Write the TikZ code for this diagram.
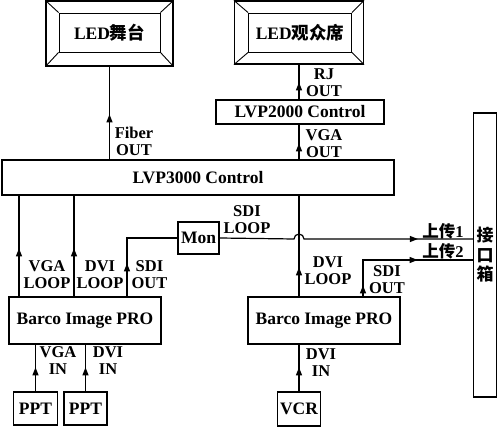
\documentclass[tikz,border=0pt]{standalone}
\usepackage{fontspec}
\setmainfont{Liberation Serif}
\newfontfamily\cjk{Noto Sans CJK SC}
\usetikzlibrary{arrows.meta,decorations.markings}
\newcommand\dgbox{\fontsize{17.5}{19}\selectfont\bfseries}
\newcommand\dglbl{\fontsize{16.5}{17}\selectfont\bfseries}
\tikzset{
  box/.style={draw, line width=1.2pt, inner sep=0pt, font=\dgbox},
  lbl/.style={align=center, font=\dglbl, inner sep=0pt},
  wire/.style={line width=1.2pt},
  thin/.style={line width=0.9pt},
  tip/.style={postaction={decorate}, decoration={markings,
      mark=at position #1 with {\arrow{Triangle[width=6pt,length=8pt]}}}},
  tiptwo/.style 2 args={postaction={decorate}, decoration={markings,
      mark=at position #1 with {\arrow{Triangle[width=6pt,length=8pt]}},
      mark=at position #2 with {\arrow{Triangle[width=6pt,length=8pt]}}}},
}
\begin{document}
\begin{tikzpicture}[x=1pt,y=-1pt]
\useasboundingbox (0,0) rectangle (498,427);
% column / row helpers
\coordinate (c19) at (19,0);
\coordinate (c74) at (74,0);
\coordinate (c127) at (127,0);
\coordinate (c299) at (299,0);
\coordinate (c363) at (363,0);
\coordinate (r239) at (0,239);
\coordinate (r260) at (0,260);
\coordinate (hopL) at (294,239);

% LED screens
\node[box, minimum width=127pt, minimum height=65pt] (stage) at (109.5,33.5) {};
\node[box, thin, minimum width=101pt, minimum height=39pt] (stagein) at (109.5,32.5) {LED{\cjk\bfseries 舞台}};
\foreach \c in {north west,north east,south west,south east}
  \draw[thin] (stage.\c) -- (stagein.\c);

\node[box, minimum width=129pt, minimum height=63pt] (aud) at (299,32.5) {};
\node[box, thin, minimum width=103pt, minimum height=39pt] (audin) at (300,32.5) {LED{\cjk\bfseries 观众席}};
\foreach \c in {north west,north east,south west,south east}
  \draw[thin] (aud.\c) -- (audin.\c);

% boxes
\node[box, minimum width=168pt, minimum height=24pt] (lvp2) at (300,112) {LVP2000 Control};
\node[box, minimum width=392pt, minimum height=35pt] (lvp3) at (198,177.5) {LVP3000 Control};
\node[box, minimum width=41pt, minimum height=32pt] (mon) at (198.5,238) {Mon};
\node[box, minimum width=152pt, minimum height=47pt] (bl) at (85,320.5) {Barco Image PRO};
\node[box, minimum width=152pt, minimum height=47pt] (br) at (324,320.5) {Barco Image PRO};
\node[box, minimum width=44pt, minimum height=33pt] (ppt1) at (35.5,408.5) {PPT};
\node[box, minimum width=43pt, minimum height=33pt] (ppt2) at (85.5,408.5) {PPT};
\node[box, minimum width=43pt, minimum height=34pt] (vcr) at (299,409) {VCR};
\node[box, minimum width=23pt, minimum height=284pt, align=center,
      font=\cjk\bfseries\fontsize{17}{19.5}\selectfont] (ifbox) at (485,255) {接\\口\\箱};

% connectors
\draw[wire, tip=45pt] (lvp3.north -| stage.south) -- (stage.south);
\draw[wire, tip=17pt] (lvp2.north -| c299) -- (aud.south -| c299);
\draw[wire, tip=16pt] (lvp3.north -| c299) -- (lvp2.south -| c299);
\draw[wire, tip=48pt] (bl.north -| c19) -- (lvp3.south -| c19);
\draw[wire, tip=48pt] (bl.north -| c74) -- (lvp3.south -| c74);
\draw[wire, tip=33pt] (bl.north -| c127) |- (mon.west);
\draw[wire, tip=204pt] (mon.east) -- (hopL) arc[start angle=180, end angle=0, radius=5pt] -- (ifbox.west |- r239);
\draw[wire, tip=29pt] (br.north -| c299) -- (lvp3.south -| c299);
\draw[wire, tiptwo={11pt}{91pt}] (br.north -| c363) |- (ifbox.west |- r260);
\draw[wire, tip=24pt] (ppt1.north) -- (bl.south -| ppt1.north);
\draw[wire, tip=24pt] (ppt2.north) -- (bl.south -| ppt2.north);
\draw[wire, tip=24pt] (vcr.north) -- (br.south -| vcr.north);

% labels
\node[lbl] (lfiber) at (134,141) {Fiber\\OUT};
\node[lbl] (lrj) at (324,83) {RJ\\OUT};
\node[lbl] (lvgaout) at (324,144) {VGA\\OUT};
\node[lbl] (lvgaloop) at (47,275) {VGA\\LOOP};
\node[lbl] (ldviloop) at (100,275) {DVI\\LOOP};
\node[lbl] (lsdiout) at (149.5,275) {SDI\\OUT};
\node[lbl] (lsdiloop) at (247,220) {SDI\\LOOP};
\node[lbl] (ldviloop2) at (328,271) {DVI\\LOOP};
\node[lbl] (lsdiout2) at (387,280) {SDI\\OUT};
\node[lbl] (lup1) at (443,231) {{\cjk\bfseries 上传}1};
\node[lbl] (lup2) at (443,251) {{\cjk\bfseries 上传}2};
\node[lbl] (lvgain) at (58,361) {VGA\\IN};
\node[lbl] (ldviin) at (108,361) {DVI\\IN};
\node[lbl] (ldviin2) at (321,363) {DVI\\IN};
\end{tikzpicture}
\end{document}
